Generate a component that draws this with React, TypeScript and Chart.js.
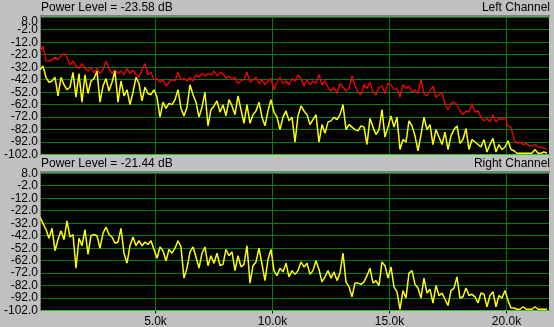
import React, { useEffect, useRef } from 'react';
import { Chart, registerables } from 'chart.js';

Chart.register(...registerables);

// Frequency bins (kHz) of the analyser
const FREQ_START_KHZ = 0.064;
const FREQ_STEP_KHZ = 0.1282;
const X_MIN_KHZ = 0.064;
const X_MAX_KHZ = 21.816;
const X_TICKS_KHZ = [5, 10, 15, 20];
const Y_MIN_DB = -102;
const Y_MAX_DB = 8;
const Y_TICKS_DB = [-102, -92, -82, -72, -62, -52, -42, -32, -22, -12, -2, 8];

const LEFT_POWER_LABEL = 'Power Level = -23.58 dB';
const LEFT_CHANNEL_LABEL = 'Left Channel';
const RIGHT_POWER_LABEL = 'Power Level = -21.44 dB';
const RIGHT_CHANNEL_LABEL = 'Right Channel';

// Left channel – peak hold (red)
const LEFT_PEAK_DB = [
  -19, -15, -27, -27, -26, -24, -26, -23, -21, -24, -30, -27, -31, -33, -29, -33, -35, -32, -36, -33,
  -37, -34, -27, -33, -37, -34, -37, -35, -38, -33, -37, -34, -38, -40, -34, -29, -38, -36, -42, -41,
  -44, -42, -47, -44, -42, -43, -36, -42, -41, -43, -40, -43, -38, -40, -37, -39, -37,
  -38, -35, -39, -36, -37, -41, -39, -42, -40, -45, -43, -42, -36, -44, -42, -40, -45, -42, -46, -43,
  -41, -50, -44, -40, -45, -43, -46, -41, -43, -38, -41, -47, -42, -46, -43, -45, -38, -46, -43, -48,
  -51, -48, -53, -45, -48, -51, -49, -39, -47, -52, -54, -46, -49, -44, -52, -54, -48,
  -47, -53, -45, -46, -50, -49, -56, -46, -49, -47, -52, -50, -53, -42, -53, -55, -51, -47, -56, -54,
  -52, -61, -66, -61, -60, -62, -67, -70, -67, -68, -61, -68, -67, -72, -75, -73, -76, -70, -76, -73,
  -74, -72, -79, -80, -90, -93, -92, -94, -93, -95, -95, -94, -96, -96, -97, -98,
];

// Left channel – spectrum (yellow)
const LEFT_LEVEL_DB = [
  -34, -31, -40, -44, -43, -40, -55, -40, -46, -50, -48, -36, -56, -37, -60, -38, -53, -43, -41, -35,
  -60, -47, -41, -51, -44, -35, -60, -43, -55, -50, -62, -52, -40, -45, -59, -48, -53, -54, -50, -56,
  -72, -60, -65, -61, -62, -58, -50, -65, -71, -64, -46, -54, -60, -72, -64, -52, -79,
  -66, -63, -59, -68, -62, -71, -58, -63, -70, -55, -66, -77, -62, -77, -70, -67, -60, -72, -79, -67,
  -58, -68, -72, -82, -72, -67, -75, -72, -92, -71, -63, -67, -70, -78, -74, -70, -92, -78, -85, -76,
  -75, -72, -74, -70, -62, -82, -78, -80, -82, -83, -79, -80, -94, -73, -80, -86, -82,
  -66, -88, -80, -71, -80, -72, -98, -90, -92, -75, -79, -87, -99, -86, -72, -82, -78, -94, -82, -88,
  -94, -84, -98, -87, -82, -79, -93, -90, -81, -98, -90, -92, -94, -96, -90, -100, -94, -89, -100, -94,
  -98, -96, -91, -98, -99, -101, -101, -101, -101, -101, -101, -98, -101, -101, -100, -101,
];

// Right channel – spectrum (yellow)
const RIGHT_LEVEL_DB = [
  -27, -32, -37, -44, -36, -54, -45, -38, -45, -30, -43, -41, -68, -44, -50, -37, -57, -42, -41, -42,
  -52, -40, -35, -41, -43, -48, -47, -36, -56, -64, -50, -43, -50, -46, -50, -47, -49, -46, -53, -60,
  -51, -54, -62, -53, -56, -52, -46, -51, -76, -68, -55, -51, -59, -68, -56, -51, -66,
  -58, -64, -56, -66, -65, -53, -58, -55, -70, -58, -67, -65, -50, -80, -66, -63, -52, -65, -78, -61,
  -53, -70, -74, -68, -71, -64, -75, -70, -73, -70, -63, -67, -64, -73, -70, -62, -69, -79, -75, -70,
  -76, -71, -78, -72, -56, -79, -83, -91, -80, -80, -81, -79, -74, -68, -80, -78, -82,
  -63, -66, -76, -67, -83, -87, -101, -86, -92, -72, -70, -81, -84, -92, -76, -88, -85, -96, -82, -90,
  -88, -93, -98, -86, -84, -75, -92, -91, -84, -90, -89, -91, -96, -88, -89, -99, -90, -87, -99, -90,
  -92, -86, -94, -100, -100, -101, -101, -99, -101, -101, -101, -99, -101, -101, -101, -101,
];

const FONT_FAMILY = '"Liberation Sans", Arial, sans-serif';

function toPoints(values: number[]) {
  return values.map((y, i) => ({ x: FREQ_START_KHZ + i * FREQ_STEP_KHZ, y }));
}

const panelBackground = {
  id: 'panelBackground',
  beforeDraw(chart: any) {
    const { ctx, chartArea } = chart;
    const { left, top, right, bottom } = chartArea;
    ctx.save();
    ctx.fillStyle = '#000000';
    ctx.fillRect(left, top - 0.5, right - left, bottom - top + 1);
    ctx.fillStyle = '#808080';
    ctx.fillRect(left, top - 2.5, right - left + 1, 2);
    ctx.restore();
  },
};

type Series = { values: number[]; color: string; width: number };

function Panel(props: {
  top: number;
  height: number;
  padTop: number;
  xHeight: number;
  showXLabels: boolean;
  shiftTopLabel: boolean;
  series: Series[];
}) {
  const ref = useRef<HTMLCanvasElement>(null);
  useEffect(() => {
    if (!ref.current) return;
    const chart = new Chart(ref.current, {
      type: 'line',
      data: {
        datasets: props.series.map((s) => ({
          data: toPoints(s.values),
          borderColor: s.color,
          borderWidth: s.width,
          pointRadius: 0,
          tension: 0,
          fill: false,
          borderJoinStyle: 'bevel',
        })),
      },
      options: {
        animation: false,
        responsive: false,
        devicePixelRatio: 1,
        events: [],
        layout: { padding: { left: 0, right: 5, top: props.padTop, bottom: 0 } },
        plugins: {
          legend: { display: false },
          tooltip: { enabled: false },
          title: { display: false },
        },
        scales: {
          x: {
            type: 'linear',
            min: X_MIN_KHZ,
            max: X_MAX_KHZ,
            afterBuildTicks: (scale: any) => {
              scale.ticks = X_TICKS_KHZ.map((value) => ({ value }));
            },
            afterFit: (scale: any) => {
              scale.height = props.xHeight;
            },
            grid: {
              color: '#008000',
              lineWidth: 1,
              drawTicks: props.showXLabels,
              tickLength: 3,
              tickColor: '#000000',
            },
            border: { color: '#30c030', width: 1 },
            ticks: {
              display: props.showXLabels,
              padding: 1,
              color: '#000000',
              maxRotation: 0,
              autoSkip: false,
              font: { family: FONT_FAMILY, size: 12 },
              callback: (v: any) => Number(v).toFixed(1) + 'k',
            },
          },
          y: {
            type: 'linear',
            min: Y_MIN_DB,
            max: Y_MAX_DB,
            afterBuildTicks: (scale: any) => {
              scale.ticks = Y_TICKS_DB.map((value) => ({ value }));
            },
            afterFit: (scale: any) => {
              scale.width = 40;
            },
            grid: { color: '#008000', lineWidth: 1, drawTicks: false },
            border: { color: '#808080', width: 1 },
            ticks: {
              padding: 2,
              color: '#000000',
              autoSkip: false,
              font: props.shiftTopLabel
                ? { family: FONT_FAMILY, size: 12, lineHeight: '9px' }
                : { family: FONT_FAMILY, size: 12 },
              callback: (v: any) => {
                const label = Number(v).toFixed(1);
                return props.shiftTopLabel && Number(v) === Y_MAX_DB ? ['', label] : label;
              },
            },
          },
        },
      } as any,
      plugins: [panelBackground],
    });
    return () => chart.destroy();
  }, []);
  return (
    <canvas
      ref={ref}
      width={554}
      height={props.height}
      style={{ position: 'absolute', left: 0, top: props.top, width: 554, height: props.height }}
    />
  );
}

const textStyle: React.CSSProperties = {
  position: 'absolute',
  fontFamily: FONT_FAMILY,
  fontSize: 12,
  lineHeight: '14px',
  color: '#000000',
  whiteSpace: 'nowrap',
};

export default function App() {
  return (
    <div
      style={{
        position: 'fixed',
        left: 0,
        top: 0,
        width: 554,
        height: 327,
        background: '#c0c0c0',
        overflow: 'hidden',
      }}
    >
      <Panel
        top={0}
        height={163}
        padTop={17.5}
        xHeight={8.5}
        showXLabels={false}
        shiftTopLabel={true}
        series={[
          { values: LEFT_LEVEL_DB, color: '#ffff00', width: 1.5 },
          { values: LEFT_PEAK_DB, color: '#ff0000', width: 1.3 },
        ]}
      />
      <Panel
        top={160}
        height={167}
        padTop={13.5}
        xHeight={16.5}
        showXLabels={true}
        shiftTopLabel={false}
        series={[{ values: RIGHT_LEVEL_DB, color: '#ffff00', width: 1.5 }]}
      />
      <div style={{ ...textStyle, left: 41, top: 0 }}>{LEFT_POWER_LABEL}</div>
      <div style={{ ...textStyle, right: 4, top: 0 }}>{LEFT_CHANNEL_LABEL}</div>
      <div style={{ ...textStyle, left: 41, top: 156 }}>{RIGHT_POWER_LABEL}</div>
      <div style={{ ...textStyle, right: 4, top: 156 }}>{RIGHT_CHANNEL_LABEL}</div>
    </div>
  );
}
